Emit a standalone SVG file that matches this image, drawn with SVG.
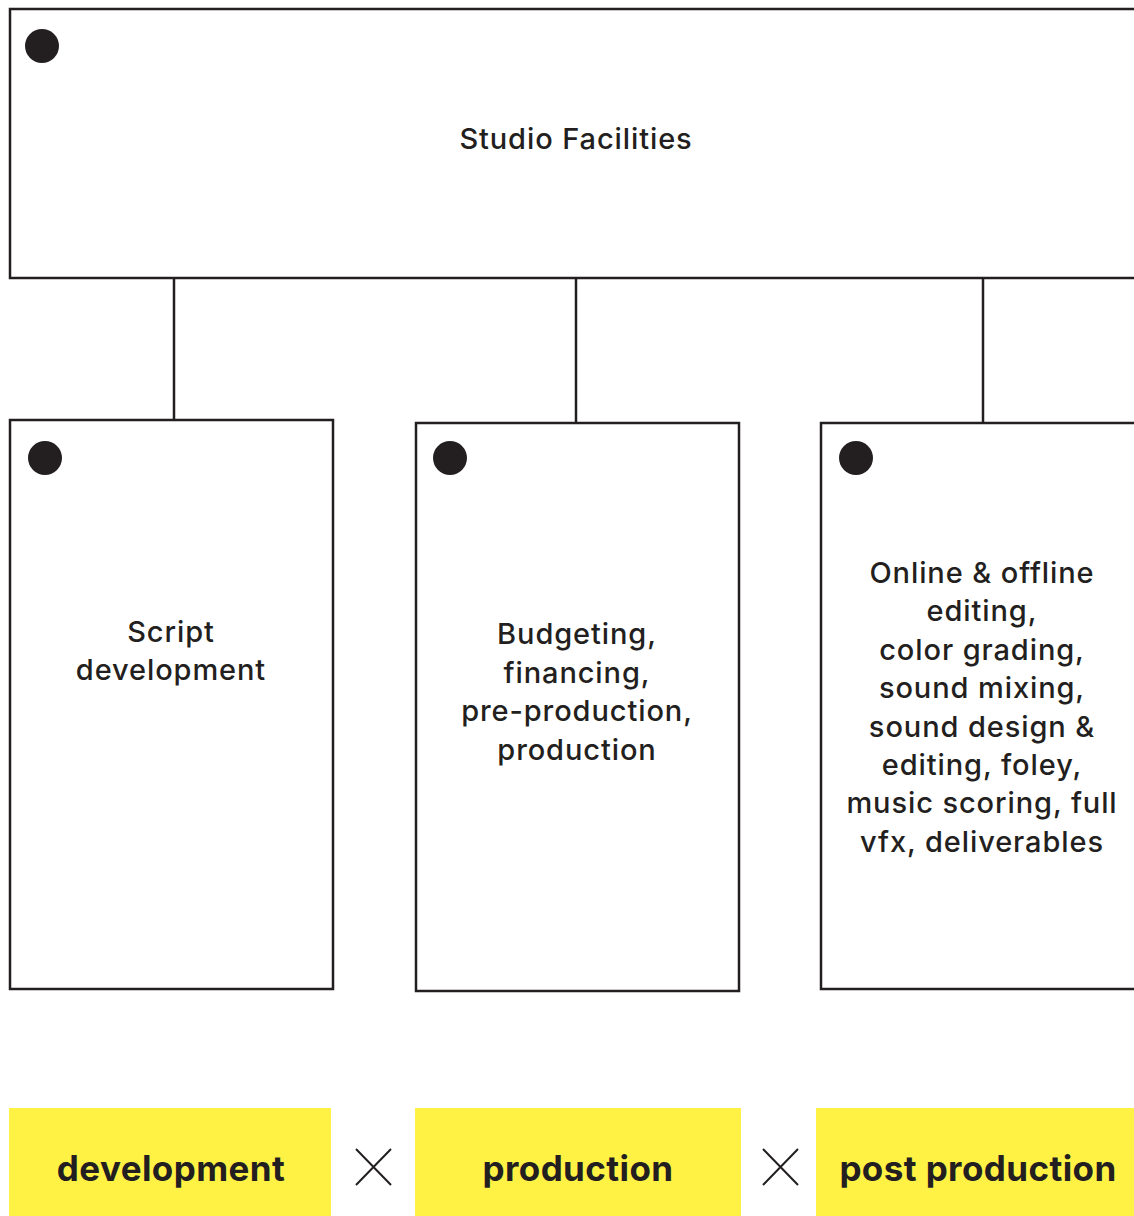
<svg xmlns="http://www.w3.org/2000/svg" width="1134" height="1216" viewBox="0 0 1134 1216">
<style>
.box{fill:#fff;stroke:#231f20;stroke-width:2.5}
.dot{fill:#231f20}
.t{font-family:Inter,"Noto Sans",sans-serif;font-size:29px;font-weight:500;letter-spacing:0.9px;fill:#231f20;text-anchor:middle}
.tag{fill:#fff245}
.tl{font-family:Inter,"Noto Sans",sans-serif;font-size:35px;font-weight:700;letter-spacing:0.4px;fill:#231f20;text-anchor:middle}
.con{stroke:#231f20;stroke-width:2.5;fill:none}
.x{stroke:#231f20;stroke-width:2;fill:none}
</style>
<rect width="1134" height="1216" fill="#fff"/>
<g id="connectors">
<line class="con" x1="174" y1="278" x2="174" y2="420"/>
<line class="con" x1="576" y1="278" x2="576" y2="423"/>
<line class="con" x1="983" y1="278" x2="983" y2="423"/>
</g>
<g id="studio">
<rect class="box" x="10" y="9" width="1140" height="269"/>
<circle class="dot" cx="42" cy="46" r="17"/>
<text class="t" x="576" y="149">Studio Facilities</text>
</g>
<g id="script">
<rect class="box" x="10" y="420" width="323" height="569"/>
<circle class="dot" cx="45" cy="458" r="17"/>
<text class="t" x="171" y="642">Script</text>
<text class="t" x="171" y="680">development</text>
</g>
<g id="budgeting">
<rect class="box" x="416" y="423" width="323" height="568"/>
<circle class="dot" cx="450" cy="458" r="17"/>
<text class="t" x="577" y="644">Budgeting,</text>
<text class="t" x="577" y="683">financing,</text>
<text class="t" x="577" y="721">pre-production,</text>
<text class="t" x="577" y="760">production</text>
</g>
<g id="post">
<rect class="box" x="821" y="423" width="330" height="566"/>
<circle class="dot" cx="856" cy="458" r="17"/>
<text class="t" x="982" y="583">Online &amp; offline</text>
<text class="t" x="982" y="621">editing,</text>
<text class="t" x="982" y="660">color grading,</text>
<text class="t" x="982" y="698">sound mixing,</text>
<text class="t" x="982" y="737">sound design &amp;</text>
<text class="t" x="982" y="775">editing, foley,</text>
<text class="t" x="982" y="813">music scoring, full</text>
<text class="t" x="982" y="852">vfx, deliverables</text>
</g>
<g id="tag-development">
<rect class="tag" x="9" y="1108" width="322" height="108"/>
<text class="tl" x="171" y="1181">development</text>
</g>
<g id="tag-production">
<rect class="tag" x="415" y="1108" width="326" height="108"/>
<text class="tl" x="578" y="1181">production</text>
</g>
<g id="tag-post">
<rect class="tag" x="816" y="1108" width="318" height="108"/>
<text class="tl" x="978" y="1181">post production</text>
</g>
<g id="times">
<path class="x" d="M356 1149 L391 1185 M391 1149 L356 1185"/>
<path class="x" d="M763 1149 L798 1185 M798 1149 L763 1185"/>
</g>
</svg>
